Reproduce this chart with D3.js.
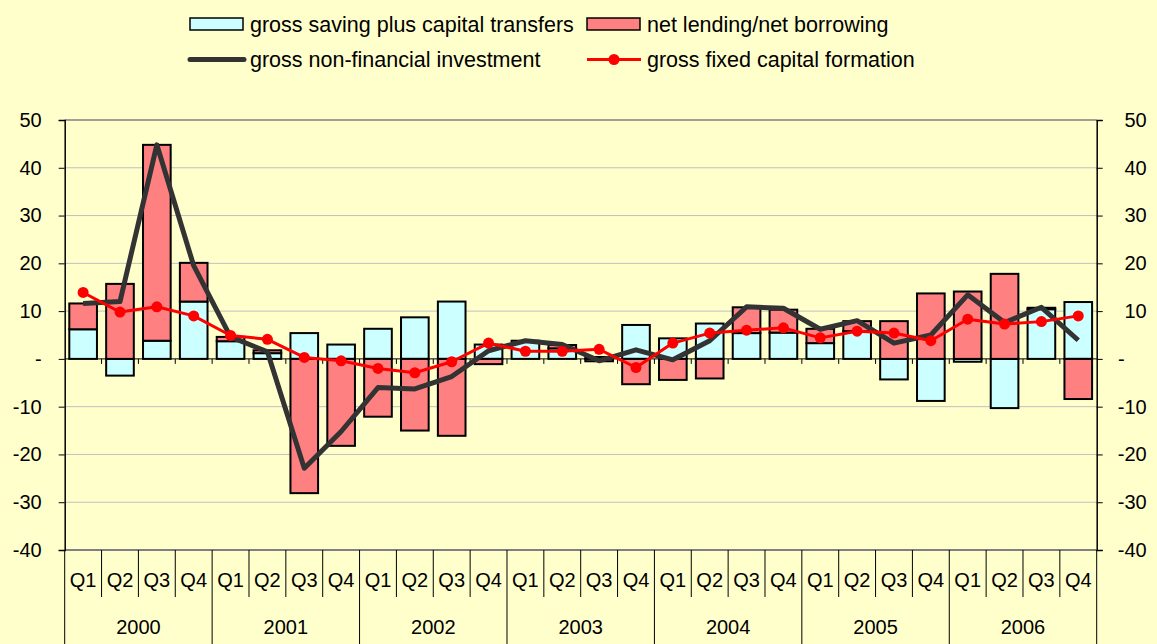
<!DOCTYPE html>
<html>
<head>
<meta charset="utf-8">
<script src="https://cdnjs.cloudflare.com/ajax/libs/d3/7.8.5/d3.min.js"></script>
<style>
  html, body { margin: 0; padding: 0; background: #FFFFCC; }
  svg { display: block; }
  text { font-family: "Liberation Sans", Arial, sans-serif; fill: #000; }
</style>
</head>
<body>
<svg id="chart"></svg>
<script>
// quarters and years
const quarters = ['Q1', 'Q2', 'Q3', 'Q4'];
const years = ['2000', '2001', '2002', '2003', '2004', '2005', '2006'];

// gross saving plus capital transfers (cyan bars)
const saving = [6.2, -3.5, 3.8, 12.0, 3.7, 1.2, 5.4, 3.0, 6.3, 8.7, 12.0, 3.0, 3.8, 2.2,
  0.4, 7.1, 4.3, 7.4, 5.4, 5.5, 3.3, 5.8, -4.3, -8.8, -0.6, -10.3, 10.4, 11.9];
// net lending/net borrowing (pink bars)
const lending = [5.4, 15.7, 41.0, 8.1, 0.9, 0.6, -28.1, -18.2, -12.1, -15.0, -16.1, -1.1, 0.0, 0.7,
  -0.5, -5.3, -4.4, -4.1, 5.4, 4.8, 3.0, 2.1, 7.9, 13.7, 14.1, 17.8, 0.3, -8.4];
// gross non-financial investment (dark line)
const nonFin = [11.6, 12.0, 44.8, 19.5, 4.6, 1.5, -22.9, -15.2, -6.0, -6.3, -3.7, 1.7, 3.8, 3.0,
  -0.4, 1.9, -0.2, 3.8, 10.9, 10.6, 6.2, 8.0, 3.3, 5.0, 13.4, 7.6, 10.8, 3.9];
// gross fixed capital formation (red line with dots)
const gfcf = [13.9, 9.8, 10.9, 9.0, 4.9, 4.1, 0.3, -0.4, -2.0, -2.9, -0.6, 3.3, 1.6, 1.6,
  2.0, -1.8, 3.3, 5.4, 6.0, 6.5, 4.4, 5.8, 5.4, 3.8, 8.3, 7.3, 7.8, 9.0];
const yTicks = [-40, -30, -20, -10, 0, 10, 20, 30, 40, 50];

const W = 1157, H = 644;
const plotL = 64.7, plotR = 1096.7, plotT = 120, plotB = 550;

const svg = d3.select('#chart').attr('width', W).attr('height', H);
svg.append('rect').attr('width', W).attr('height', H).attr('fill', '#FFFFCC');

const cats = d3.range(saving.length);
const x = d3.scaleBand().domain(cats).range([plotL, plotR]).padding(0);
const y = d3.scaleLinear().domain([-40, 50]).range([plotB, plotT]);
const barW = x.bandwidth() * 0.75;
const cx = i => x(i) + x.bandwidth() / 2;

// gridlines
svg.append('g')
  .selectAll('line')
  .data(yTicks.filter(d => d > -40 && d < 50 && d !== 0))
  .join('line')
  .attr('x1', plotL).attr('x2', plotR)
  .attr('y1', d => y(d)).attr('y2', d => y(d))
  .attr('stroke', '#C0C0C0').attr('stroke-width', 1);

// plot border top and bottom
svg.append('line').attr('x1', plotL).attr('x2', plotR).attr('y1', y(50)).attr('y2', y(50))
  .attr('stroke', '#808080').attr('stroke-width', 1.5);
svg.append('line').attr('x1', plotL).attr('x2', plotR).attr('y1', y(-40)).attr('y2', y(-40))
  .attr('stroke', '#808080').attr('stroke-width', 2);

// stacked bars, positives and negatives stacked separately
const series = [
  { values: saving, fill: '#CCFFFF' },
  { values: lending, fill: '#FF8080' }
];
const pos = cats.map(() => 0), neg = cats.map(() => 0);
const segs = [];
series.forEach(s => {
  s.values.forEach((v, i) => {
    if (v === 0) return;
    let y0, y1;
    if (v > 0) { y0 = pos[i]; y1 = pos[i] + v; pos[i] = y1; }
    else { y0 = neg[i]; y1 = neg[i] + v; neg[i] = y1; }
    segs.push({ i, y0, y1, fill: s.fill });
  });
});
svg.append('g')
  .selectAll('rect')
  .data(segs)
  .join('rect')
  .attr('x', d => cx(d.i) - barW / 2)
  .attr('width', barW)
  .attr('y', d => y(Math.max(d.y0, d.y1)))
  .attr('height', d => Math.abs(y(d.y0) - y(d.y1)))
  .attr('fill', d => d.fill)
  .attr('stroke', '#000')
  .attr('stroke-width', 2);

// zero line with small ticks
svg.append('line').attr('x1', plotL).attr('x2', plotR).attr('y1', y(0)).attr('y2', y(0))
  .attr('stroke', '#000').attr('stroke-width', 1);
svg.append('g')
  .selectAll('line')
  .data(d3.range(1, cats.length))
  .join('line')
  .attr('x1', d => x(d)).attr('x2', d => x(d))
  .attr('y1', y(0)).attr('y2', y(0) + 5)
  .attr('stroke', '#000').attr('stroke-width', 1);

// lines
svg.append('path')
  .datum(nonFin)
  .attr('fill', 'none')
  .attr('stroke', '#333333')
  .attr('stroke-width', 5)
  .attr('stroke-linejoin', 'round')
  .attr('d', d3.line().x((d, i) => cx(i)).y(d => y(d)));

svg.append('path')
  .datum(gfcf)
  .attr('fill', 'none')
  .attr('stroke', '#FF0000')
  .attr('stroke-width', 3)
  .attr('stroke-linejoin', 'round')
  .attr('d', d3.line().x((d, i) => cx(i)).y(d => y(d)));
svg.append('g')
  .selectAll('circle')
  .data(gfcf)
  .join('circle')
  .attr('cx', (d, i) => cx(i))
  .attr('cy', d => y(d))
  .attr('r', 5.5)
  .attr('fill', '#FF0000');

// y axes
const fmt = d => d === 0 ? '-' : d;
const yAxisL = svg.append('g')
  .attr('transform', 'translate(' + plotL + ',0)')
  .call(d3.axisLeft(y).tickValues(yTicks).tickFormat(fmt).tickSize(6).tickPadding(17));
const yAxisR = svg.append('g')
  .attr('transform', 'translate(' + plotR + ',0)')
  .call(d3.axisRight(y).tickValues(yTicks).tickFormat(fmt).tickSize(6).tickPadding(44));
[yAxisL, yAxisR].forEach(g => {
  g.select('.domain').attr('stroke', '#000').attr('stroke-width', 1.5);
  g.selectAll('.tick line').attr('stroke', '#000');
  g.selectAll('.tick text')
    .style('font-family', '"Liberation Sans", Arial, sans-serif')
    .style('font-size', '20px')
    .attr('fill', '#000');
});
yAxisR.selectAll('.tick text').attr('text-anchor', 'end')
  .attr('dx', d => d === 0 ? -22 : 0);

// category axis: quarters and years
const catAxis = svg.append('g');
catAxis.selectAll('text.q')
  .data(cats)
  .join('text')
  .attr('class', 'q')
  .attr('x', d => cx(d))
  .attr('y', 587)
  .attr('text-anchor', 'middle')
  .style('font-size', '20px')
  .text(d => quarters[d % 4]);
catAxis.selectAll('line.qs')
  .data(d3.range(0, cats.length + 1).filter(d => d % 4 !== 0))
  .join('line')
  .attr('class', 'qs')
  .attr('x1', d => x(d)).attr('x2', d => x(d))
  .attr('y1', plotB).attr('y2', 597)
  .attr('stroke', '#000').attr('stroke-width', 1);
catAxis.selectAll('line.ys')
  .data(d3.range(0, years.length + 1))
  .join('line')
  .attr('class', 'ys')
  .attr('x1', d => d < years.length ? x(d * 4) : plotR)
  .attr('x2', d => d < years.length ? x(d * 4) : plotR)
  .attr('y1', plotB).attr('y2', H)
  .attr('stroke', '#000').attr('stroke-width', 1);
catAxis.selectAll('text.yr')
  .data(years)
  .join('text')
  .attr('class', 'yr')
  .attr('x', (d, i) => (x(i * 4) + (i * 4 + 4 < cats.length ? x(i * 4 + 4) : plotR)) / 2)
  .attr('y', 634)
  .attr('text-anchor', 'middle')
  .style('font-size', '20px')
  .text(d => d);

// legend
const legend = svg.append('g').style('font-size', '21.5px');
const legItems = [
  { label: 'gross saving plus capital transfers', kind: 'rect', fill: '#CCFFFF', x: 190, y: 24 },
  { label: 'net lending/net borrowing', kind: 'rect', fill: '#FF8080', x: 587, y: 24 },
  { label: 'gross non-financial investment', kind: 'dark', x: 190, y: 59.5 },
  { label: 'gross fixed capital formation', kind: 'red', x: 587, y: 59.5 }
];
legItems.forEach(it => {
  const g = legend.append('g').attr('transform', 'translate(' + it.x + ',' + it.y + ')');
  if (it.kind === 'rect') {
    g.append('rect').attr('x', 0).attr('y', -6).attr('width', 53).attr('height', 12)
      .attr('fill', it.fill).attr('stroke', '#000').attr('stroke-width', 1.5);
  } else if (it.kind === 'dark') {
    g.append('line').attr('x1', 0).attr('x2', 54).attr('y1', 0).attr('y2', 0)
      .attr('stroke', '#333333').attr('stroke-width', 5).attr('stroke-linecap', 'round');
  } else {
    g.append('line').attr('x1', 0).attr('x2', 54).attr('y1', 0).attr('y2', 0)
      .attr('stroke', '#FF0000').attr('stroke-width', 3);
    g.append('circle').attr('cx', 27).attr('cy', 0).attr('r', 5.5).attr('fill', '#FF0000');
  }
  g.append('text').attr('x', 60).attr('y', 0).attr('dy', '0.35em').text(it.label);
});
</script>
</body>
</html>
